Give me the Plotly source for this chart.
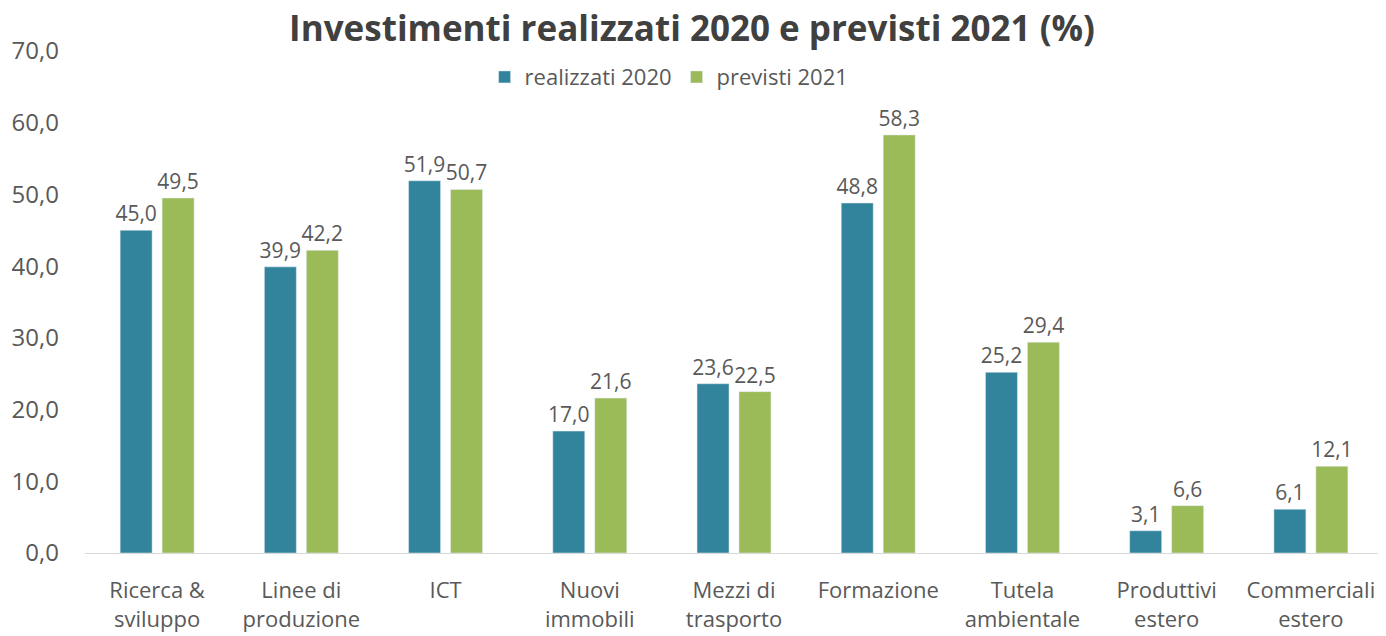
import plotly.graph_objects as go

categories = [
    "Ricerca &<br>sviluppo", "Linee di<br>produzione", "ICT", "Nuovi<br>immobili",
    "Mezzi di<br>trasporto", "Formazione", "Tutela<br>ambientale",
    "Produttivi<br>estero", "Commerciali<br>estero",
]
realizzati_2020 = [45.0, 39.9, 51.9, 17.0, 23.6, 48.8, 25.2, 3.1, 6.1]
previsti_2021 = [49.5, 42.2, 50.7, 21.6, 22.5, 58.3, 29.4, 6.6, 12.1]
y_ticks = [0, 10, 20, 30, 40, 50, 60, 70]

text_color = "#595959"
font = "Open Sans, Noto Sans, sans-serif"

# the page body has an 8px margin, so the figure is shrunk by that much
W, H = 1378, 628

fig = go.Figure()
for name, vals, color in [
    ("realizzati 2020", realizzati_2020, "#31849B"),
    ("previsti 2021", previsti_2021, "#9BBB59"),
]:
    fig.add_trace(go.Bar(
        x=categories, y=vals, name=name,
        marker=dict(color=color),
        texttemplate="%{y:.1f}", textposition="outside",
        textfont=dict(size=21, color=text_color),
        constraintext="none",
        cliponaxis=False,
    ))

fig.update_layout(
    width=W, height=H,
    paper_bgcolor="white", plot_bgcolor="white",
    separators=",.",
    font=dict(family=font, color=text_color),
    title=dict(
        text="<b>Investimenti realizzati 2020 e previsti 2021 (%)</b>",
        x=684 / W, xanchor="center", xref="container",
        y=1 - 21 / H, yanchor="middle", yref="container",
        font=dict(size=35, color="#404040"),
        automargin=False,
    ),
    legend=dict(
        orientation="h", x=0.45, xanchor="center", y=0.948, yanchor="middle",
        font=dict(size=22, color=text_color),
        bgcolor="rgba(0,0,0,0)",
    ),
    barmode="group", bargap=0.418, bargroupgap=0.238,
    margin=dict(l=77, r=3, t=43, b=83, autoexpand=False),
    showlegend=True,
)
fig.update_xaxes(
    showline=True, linecolor="#d9d9d9", linewidth=1,
    tickfont=dict(size=22, color=text_color), ticks="",
    ticklabelstandoff=18, automargin=False,
)
fig.update_yaxes(
    range=[0, 70], tickvals=y_ticks, tickformat=".1f",
    showgrid=False, zeroline=False, automargin=False,
    tickfont=dict(size=24, color=text_color), ticklabelstandoff=25,
)

fig.write_html("out.html")
